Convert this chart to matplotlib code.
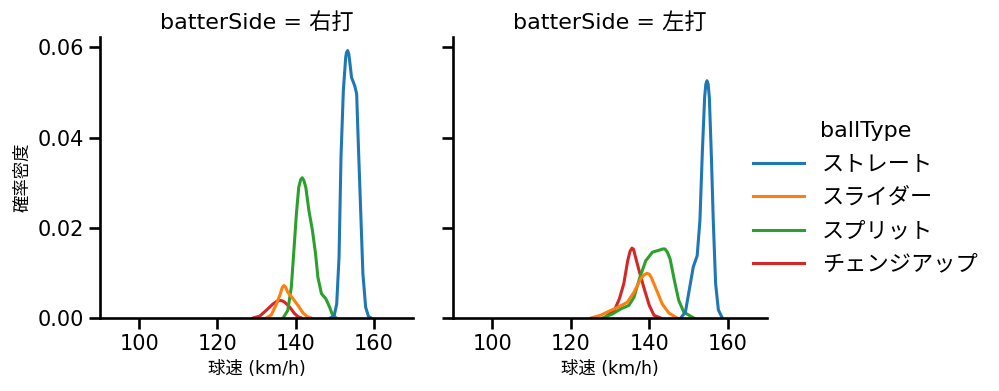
import matplotlib
matplotlib.use("Agg")
import matplotlib.pyplot as plt
from matplotlib.lines import Line2D

plt.rcParams['font.family'] = ['DejaVu Sans', 'Noto Sans CJK JP']

# facets and hue levels
batter_sides = ["右打", "左打"]
ball_types = ["ストレート", "スライダー", "スプリット", "チェンジアップ"]
colors = ["#1f77b4", "#ff7f0e", "#2ca02c", "#d62728"]

# density curves: speed (km/h) and density
# batterSide = 右打
r_straight_x = [148.8, 149.8, 150.5, 151.1, 151.6, 152.2, 152.8, 153.0, 153.3, 153.6, 153.8, 154.3, 155.1, 155.6, 156.0, 156.6, 157.2, 157.9, 158.6, 159.3]
r_straight_y = [0.0, 0.0003, 0.0031, 0.0135, 0.0357, 0.0504, 0.0578, 0.0588, 0.0593, 0.0585, 0.0571, 0.0533, 0.0515, 0.0497, 0.0393, 0.0245, 0.0098, 0.0024, 0.0004, 0.0]
r_slider_x = [132.5, 133.8, 135.1, 136.1, 136.6, 137.0, 137.4, 138.0, 139.3, 140.6, 141.9, 143.0, 144.0]
r_slider_y = [0.0, 0.0007, 0.0031, 0.0054, 0.0068, 0.0072, 0.0069, 0.0057, 0.0043, 0.0028, 0.0011, 0.0003, 0.0]
r_split_x = [136.8, 138.0, 138.9, 139.5, 140.2, 140.8, 141.3, 141.7, 142.1, 142.6, 143.4, 144.3, 145.1, 145.7, 146.6, 147.7, 148.7, 149.5, 150.4]
r_split_y = [0.0, 0.0017, 0.0068, 0.0142, 0.0231, 0.0290, 0.0307, 0.0311, 0.0305, 0.0290, 0.0238, 0.0194, 0.0142, 0.0090, 0.0054, 0.0043, 0.0024, 0.0005, 0.0]
r_change_x = [129.1, 130.8, 132.5, 134.2, 135.2, 135.9, 136.6, 137.2, 138.5, 139.7, 140.6, 141.5]
r_change_y = [0.0, 0.0004, 0.0017, 0.0031, 0.0037, 0.0039, 0.0038, 0.0035, 0.0024, 0.0010, 0.0003, 0.0]

# batterSide = 左打
l_straight_x = [148.0, 149.2, 150.3, 151.2, 152.2, 152.9, 153.5, 154.1, 154.4, 154.7, 155.0, 155.3, 155.8, 156.3, 156.9, 157.6, 158.6]
l_straight_y = [0.0, 0.0013, 0.0068, 0.0113, 0.0138, 0.0216, 0.0364, 0.0489, 0.0518, 0.0526, 0.0518, 0.0489, 0.0364, 0.0216, 0.0076, 0.0018, 0.0]
l_slider_x = [125.1, 127.6, 130.2, 132.3, 134.4, 136.1, 137.8, 138.7, 139.4, 140.0, 140.5, 141.9, 143.3, 145.0, 147.1]
l_slider_y = [0.0, 0.0006, 0.0017, 0.0025, 0.0035, 0.0057, 0.0087, 0.0096, 0.0099, 0.0097, 0.0090, 0.0061, 0.0031, 0.0011, 0.0]
l_split_x = [128.1, 130.6, 132.7, 134.8, 136.1, 137.6, 139.1, 140.8, 142.4, 143.4, 144.0, 144.6, 145.3, 146.4, 147.5, 148.8, 151.3]
l_split_y = [0.0, 0.0009, 0.0020, 0.0028, 0.0046, 0.0090, 0.0127, 0.0146, 0.0150, 0.0153, 0.0153, 0.0146, 0.0131, 0.0083, 0.0039, 0.0013, 0.0]
l_change_x = [128.6, 129.9, 131.1, 132.4, 133.5, 134.5, 135.1, 135.6, 136.0, 136.4, 137.4, 138.7, 140.0, 141.2, 142.9]
l_change_y = [0.0, 0.0010, 0.0017, 0.0043, 0.0076, 0.0127, 0.0148, 0.0155, 0.0152, 0.0138, 0.0105, 0.0065, 0.0028, 0.0006, 0.0]

curves = {
    "右打": [(r_straight_x, r_straight_y), (r_slider_x, r_slider_y), (r_split_x, r_split_y), (r_change_x, r_change_y)],
    "左打": [(l_straight_x, l_straight_y), (l_slider_x, l_slider_y), (l_split_x, l_split_y), (l_change_x, l_change_y)],
}

xticks = [100, 120, 140, 160]
yticks = [0.0, 0.02, 0.04, 0.06]

fig = plt.figure(figsize=(9.99, 3.91), dpi=100)
ax1 = fig.add_axes([0.1001, 0.1867, 0.3133, 0.7187])
ax2 = fig.add_axes([0.4535, 0.1867, 0.3143, 0.7187], sharey=ax1)

for ax, side in zip([ax1, ax2], batter_sides):
    # seaborn draws the hue levels in reverse order
    for i in reversed(range(len(ball_types))):
        xs, ys = curves[side][i]
        ax.plot(xs, ys, color=colors[i], lw=2.2, solid_capstyle='round')
    ax.set_xlim(90, 170)
    ax.set_ylim(0, 0.0623)
    ax.set_xticks(xticks)
    ax.set_yticks(yticks)
    ax.set_title(f"batterSide = {side}", fontsize=16)
    ax.set_xlabel("球速 (km/h)", fontsize=12.5)
    for s in ["top", "right"]:
        ax.spines[s].set_visible(False)
    for s in ["left", "bottom"]:
        ax.spines[s].set_linewidth(1.9)
    ax.tick_params(labelsize=15, width=1.9, length=8)

ax1.yaxis.set_major_formatter(matplotlib.ticker.FormatStrFormatter('%.2f'))
ax1.set_ylabel("確率密度", fontsize=12.5)
ax2.tick_params(labelleft=False)

handles = [Line2D([], [], color=c, lw=2.2) for c in colors]
leg = fig.legend(handles, ball_types, title="ballType", loc="center left",
                 bbox_to_anchor=(0.734, 0.494), frameon=False, fontsize=16,
                 title_fontsize=16, handlelength=2.3, labelspacing=0.6)

fig.savefig("out.png", dpi=100)
